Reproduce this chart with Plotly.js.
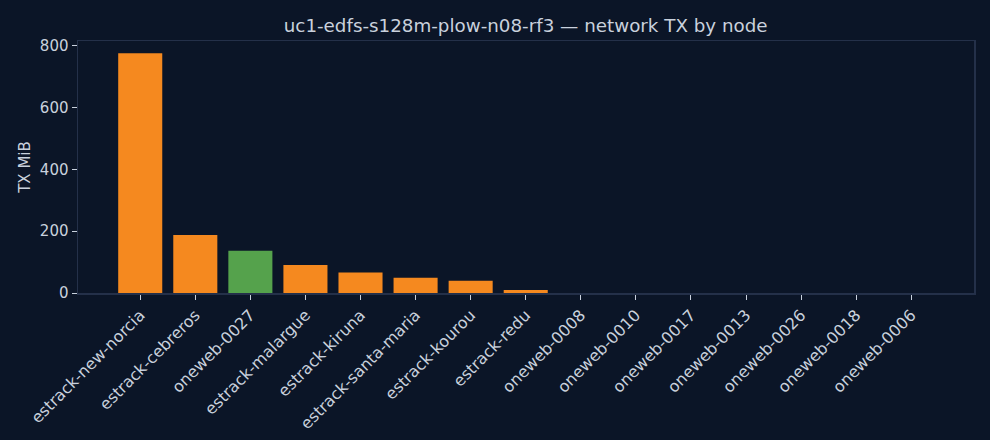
<!DOCTYPE html>
<html>
<head>
<meta charset="utf-8">
<script src="https://cdn.plot.ly/plotly-3.0.1.min.js"></script>
<style>
  html, body { margin: 0; padding: 0; background: #0b1527; }
  #chart { width: 990px; height: 440px; }
</style>
</head>
<body>
<div id="chart"></div>
<script>
// network TX per node, MiB
const nodes = [
  "estrack-new-norcia", "estrack-cebreros", "oneweb-0027", "estrack-malargue",
  "estrack-kiruna", "estrack-santa-maria", "estrack-kourou", "estrack-redu",
  "oneweb-0008", "oneweb-0010", "oneweb-0017", "oneweb-0013",
  "oneweb-0026", "oneweb-0018", "oneweb-0006",
];
const txMiB = [776, 188, 137, 91, 66, 49, 40, 10, 0, 0, 0, 0, 0, 0, 0];
const kinds = ["gs", "gs", "sat", "gs", "gs", "gs", "gs", "gs",
               "sat", "sat", "sat", "sat", "sat", "sat", "sat"];

const KIND_COLORS = { gs: "#f5891f", sat: "#55a24c" };
const TEXT = "#c9d1dd";
const FONT = "DejaVu Sans, sans-serif";

const data = [{
  type: "bar",
  x: nodes,
  y: txMiB,
  width: 0.8,
  marker: { color: kinds.map(k => KIND_COLORS[k]), line: { width: 0 } },
  hovertemplate: "%{x}<br>%{y:.1f} MiB<extra></extra>",
}];

const layout = {
  width: 990, height: 440,
  paper_bgcolor: "#0b1527", plot_bgcolor: "#0b1527",
  font: { family: FONT, color: TEXT, size: 15 },
  margin: { l: 78, r: 16, t: 41, b: 147 },
  title: {
    text: "uc1-edfs-s128m-plow-n08-rf3 — network TX by node",
    font: { size: 18.3, color: TEXT }, x: 0.531, xanchor: "center", y: 0.941, yanchor: "middle",
  },
  showlegend: false,
  bargap: 0.2,
  xaxis: {
    type: "category",
    range: [-1.13, 15.14],
    tickangle: -45,
    ticks: "outside", ticklen: 5, tickcolor: TEXT, tickwidth: 1,
    showgrid: false, zeroline: false,
    showline: true, linecolor: "#243049", linewidth: 1.5, mirror: true,
    tickfont: { size: 16, color: TEXT },
  },
  yaxis: {
    range: [0, 816],
    tickvals: [0, 200, 400, 600, 800],
    ticks: "outside", ticklen: 5, tickcolor: TEXT, tickwidth: 1,
    showgrid: false, zeroline: false,
    showline: true, linecolor: "#243049", linewidth: 1.5, mirror: true,
    tickfont: { size: 15, color: TEXT },
    title: { text: "TX MiB", font: { size: 15, color: TEXT }, standoff: 5 },
  },
};

Plotly.newPlot("chart", data, layout, { displayModeBar: false, staticPlot: true });
</script>
</body>
</html>
